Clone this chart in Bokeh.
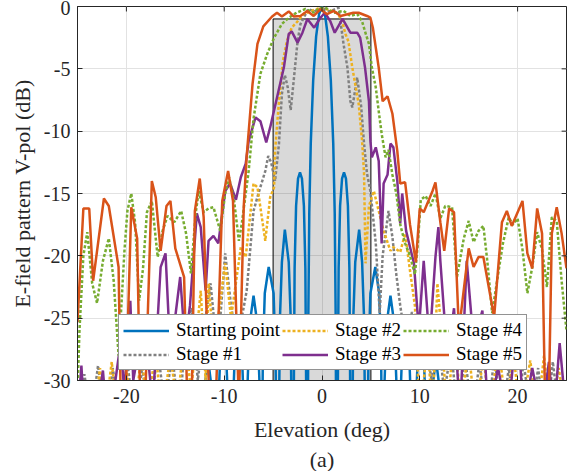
from bokeh.plotting import figure
from bokeh.models import Legend, LegendItem, Title, Range1d
from bokeh.embed import file_html
from bokeh.resources import INLINE

# ---------------- data ----------------
x_ticks = [-20, -10, 0, 10, 20]
y_ticks = [-30, -25, -20, -15, -10, -5, 0]

mask_left = [-5]
mask_right = [5]
mask_top = [-1]
mask_bottom = [-30]

start_x = [-25.0, -14.0, -13.75, -13.55, -13.2, -12.85, -12.65, -12.45, -12.2, -12.0, -11.65, -11.3, -11.1,
           -10.9, -10.65, -10.45, -10.1, -9.75, -9.55, -9.35, -9.1, -8.9, -8.55, -8.2, -8.0,
           -7.8, -7.6, -7.4, -7.0, -6.6, -6.4, -6.2, -6.05, -5.85, -5.45, -4.95, -4.75,
           -4.55, -4.3, -4.1, -3.8, -3.4, -3.2, -3.0, -2.8, -2.65, -2.45, -2.25, -2.05, -1.85, -1.7,
           -1.5, -1.4, -1.3, -1.15, -0.9, -0.6, -0.3, 0.0,
           0.3, 0.6, 0.9, 1.15, 1.3, 1.4, 1.5,
           1.7, 1.85, 2.05, 2.25, 2.45, 2.65, 2.8, 3.0,
           3.2, 3.4, 3.8, 4.1, 4.3, 4.55,
           4.75, 4.95, 5.45, 5.85, 6.05, 6.2,
           6.4, 6.6, 7.0, 7.4, 7.6, 7.8,
           8.0, 8.2, 8.55, 8.9, 9.1, 9.35,
           9.55, 9.75, 10.1, 10.45, 10.65, 10.9,
           11.1, 11.3, 11.65, 12.0, 12.2, 12.45,
           12.65, 12.85, 13.2, 13.55, 13.75, 14.0, 25.0]
start_y = [-45, -45, -36, -32, -30.2, -32, -36, -45, -35, -30.5, -28.3, -30.5, -35,
           -45, -33, -29, -26.6, -29, -33, -45, -32, -27.5, -25.0, -27.5, -32,
           -45, -30, -25.5, -23.2, -25.5, -30, -45, -28, -23, -20.9, -23, -28,
           -45, -25, -20.5, -17.9, -20.5, -25, -45, -21, -16, -13.8, -13.3, -13.8, -16, -21,
           -45, -25, -16.5, -11, -5.9, -2.4, -0.6, 0.0,
           -0.6, -2.4, -5.9, -11, -16.5, -25, -45,
           -21, -16, -13.8, -13.3, -13.8, -16, -21, -45,
           -25, -20.5, -17.9, -20.5, -25, -45,
           -28, -23, -20.9, -23, -28, -45,
           -30, -25.5, -23.2, -25.5, -30, -45,
           -32, -27.5, -25.0, -27.5, -32, -45,
           -33, -29, -26.6, -29, -33, -45,
           -35, -30.5, -28.3, -30.5, -35, -45,
           -36, -32, -30.2, -32, -36, -45, -45]

s1_x = [-25.0, -24.3, -23.6, -22.9, -22.1, -21.4, -20.6, -19.9, -19.1, -18.4, -17.6, -16.8, -16.1,
        -15.3, -14.6, -13.9, -13.3, -12.7, -12.1, -11.4, -10.8, -10.4, -9.9, -9.3, -8.7, -8.0,
        -7.7, -7.0, -6.5, -5.8, -5.5, -5.2, -4.8, -4.4, -4.1, -3.8, -3.5, -3.2, -2.9, -2.5,
        -2.2, -1.4, -0.8, 0.0, 0.8, 1.7, 2.2, 2.6, 2.9, 3.1, 3.6, 4.0, 4.3, 4.6, 4.95, 5.5,
        5.9, 6.2, 6.8, 7.2, 7.6, 8.0, 8.6, 9.2, 9.8, 10.5, 11.2, 11.9, 12.5, 13.2, 13.9, 14.6,
        15.4, 16.1, 16.9, 17.6, 18.4, 19.1, 19.9, 20.6, 21.4, 22.1, 22.9, 23.6, 24.3, 25.0]
s1_y = [-34, -29.5, -33, -28.8, -34, -29, -33, -28.5, -34, -29, -33, -27.5, -32,
        -28, -33, -25.5, -24.2, -30, -26, -22.2, -27, -25, -19.8, -24, -27, -24.1,
        -22.8, -16.4, -15.0, -13.2, -12.0, -12.5, -14.0, -11.0, -7.0, -5.5, -6.5, -8.3, -6.0, -2.8,
        -1.4, -0.2, -0.4, -0.1, -0.4, -0.1, -3.0, -4.9, -7.6, -8.1, -5.7, -8.0, -11.0, -13.4, -14.8, -19.0,
        -24.6, -20.0, -16.4, -18.5, -21.5, -24.0, -27.0, -24.5, -28.5, -26.0, -30, -26.5, -31, -27.5, -33, -28,
        -33, -28.5, -34, -28, -33, -29, -34, -28.5, -33, -29, -34, -28.5, -33, -34]

s2_x = [-25.0, -24.2, -23.5, -22.7, -22.2, -21.5, -20.9, -20.0, -19.3, -18.5, -17.8, -17.0, -16.4,
        -15.5, -14.8, -14.0, -13.4, -12.4, -11.9, -11.6, -11.2, -10.6, -9.9, -9.3, -8.3, -7.8,
        -7.0, -6.6, -5.8, -5.3, -4.9, -4.8, -4.4, -4.0, -3.6, -3.1, -2.5, -1.9, -1.2, -0.2,
        0.8, 1.5, 2.0, 2.4, 2.7, 3.1, 3.75, 4.1, 4.3, 4.45, 4.8, 5.3, 5.8, 6.3, 7.0, 7.3,
        8.0, 8.5, 9.0, 9.5, 10.0, 10.8, 11.3, 11.8, 12.3, 12.8, 13.5, 14.2, 15.0, 15.7, 16.5,
        17.2, 18.0, 18.8, 19.6, 20.3, 21.3, 22.0, 22.7, 23.4, 24.2, 25.0]
s2_y = [-33, -30, -34, -29, -33, -28.5, -33, -29, -34, -28, -32, -27.5, -33,
        -28, -32, -26, -31, -22.8, -30, -22.2, -26, -24.9, -20.6, -25, -19.3, -20.1,
        -14.2, -14.5, -18.8, -15.3, -14.5, -11.6, -7.6, -4.4, -2.8, -1.7, -1.2, -0.6, -0.4, -0.1,
        -0.3, -0.5, -1.0, -2.2, -2.8, -4.9, -7.8, -10.8, -13.4, -20.6, -16.0, -14.8, -16.4, -18.0, -19.6, -19.3,
        -19.7, -18.2, -21.2, -24.0, -33, -27, -33, -22.2, -27, -33, -26, -32, -27.5, -33, -28,
        -33, -27, -32, -28, -33, -28.4, -33, -28, -33, -29, -33]

s3_x = [-25.0, -24.6, -24.3, -23.5, -22.4, -22.0, -21.3, -20.6, -20.2, -19.6, -19.3, -18.2, -17.3,
        -16.5, -16.0, -15.5, -14.5, -14.0, -13.5, -12.8, -12.4, -11.9, -11.6, -11.1, -10.6, -9.9,
        -9.4, -8.8, -8.3, -7.8, -7.5, -6.8, -6.3, -5.7, -5.3, -4.6, -3.9, -3.4, -3.1, -2.5,
        -2.0, -1.5, -0.8, -0.16, 0.3, 0.86, 1.3, 2.1, 2.9, 3.6, 3.9, 4.4, 4.8, 4.95, 5.1,
        5.5, 5.8, 6.1, 6.3, 6.7, 7.0, 7.3, 7.7, 8.0, 8.2, 8.6, 9.4, 9.9, 10.4, 11.0, 11.6,
        11.9, 12.1, 12.8, 13.5, 14.1, 14.8, 15.5, 16.4, 17.0, 18.0, 19.0, 20.0, 20.6, 21.5,
        22.5, 23.2, 23.7, 24.3, 25.0]
s3_y = [-33, -28.8, -33, -35, -29.2, -33, -31, -27, -31, -23.6, -30, -25, -32,
        -20.9, -19.8, -28, -21.7, -27, -24, -16.6, -17.7, -22.8, -18.8, -18.4, -19.0, -14.8,
        -14.2, -15.5, -13.7, -12.6, -10.8, -8.9, -9.2, -10.9, -9.7, -7.3, -4.9, -2.2, -2.0, -2.9,
        -2.1, -1.0, -1.7, -0.9, -0.5, -1.2, -2.1, -1.0, -2.1, -2.1, -2.5, -4.9, -7.6, -10.8, -12.1,
        -11.3, -12.4, -19.0, -14.2, -13.5, -11.0, -11.3, -14.0, -17.4, -15.0, -18.0, -20.6, -26, -20.4, -27, -20.1,
        -17.7, -20.4, -28, -24.2, -33, -20.4, -27, -24.4, -33, -29, -33, -24.9, -33, -29,
        -33, -28.5, -33, -27, -33]

s4_x = [-25.0, -24.8, -24.4, -24.0, -23.5, -23.0, -22.4, -21.8, -21.3, -20.8, -20.2, -19.9, -19.5,
        -19.1, -18.7, -18.3, -17.9, -17.4, -16.8, -16.3, -15.8, -15.1, -14.4, -13.9, -13.4, -12.9,
        -12.6, -12.1, -11.6, -11.1, -10.4, -9.9, -9.5, -9.0, -8.5, -8.2, -7.5, -7.0, -6.3, -5.6,
        -4.9, -4.1, -3.4, -2.6, -1.7, -0.85, -0.16, 0.35, 1.2, 2.2, 2.9, 3.6, 4.1, 4.4, 4.8,
        5.1, 5.5, 5.8, 6.1, 6.5, 6.8, 7.2, 7.6, 8.0, 8.5, 9.0, 9.5, 9.8, 10.1, 10.6, 11.1,
        11.6, 12.1, 12.6, 13.3, 13.8, 14.5, 15.0, 15.5, 16.0, 16.5, 16.9, 17.4, 17.9, 18.5,
        19.1, 19.5, 20.0, 20.5, 21.0, 21.5, 22.0, 22.5, 23.0, 23.5, 24.0, 24.5, 25.0]
s4_y = [-31, -26, -20, -18.1, -22.2, -23.8, -20.4, -18.6, -22, -28, -19.6, -16.4, -15.0,
        -17.4, -23.6, -21, -16.5, -15.6, -20.1, -18, -16.8, -17.3, -16.4, -18.2, -21.4, -16.5,
        -14.8, -16.5, -16.2, -16.1, -18.0, -15.0, -13.7, -15.5, -18.8, -17.4, -13.2, -9.0, -5.4, -3.8,
        -2.5, -1.4, -0.9, -0.5, -0.2, -0.5, -0.1, -0.1, -0.5, -0.36, -0.76, -0.6, -1.2, -2.0, -3.0,
        -4.9, -6.5, -8.4, -10.2, -12.1, -11.5, -13.5, -15.0, -17.5, -19.0, -20.0, -21.5, -19.0, -15.5, -15.2, -16.0,
        -15.0, -17.0, -16.0, -16.1, -21.7, -18.6, -17.2, -18.9, -18.0, -17.6, -20.4, -24.6, -22.0, -19.0,
        -16.9, -17.5, -17.0, -19.5, -23.0, -20.9, -18.1, -19.5, -22.5, -16.9, -17.2, -22.0, -26.0]

s5_x = [-25.0, -24.4, -23.8, -23.4, -22.3, -21.8, -20.8, -20.4, -19.5, -18.9, -18.4, -17.4, -17.0,
        -16.5, -15.9, -15.5, -15.0, -14.1, -13.5, -13.0, -12.5, -12.1, -11.2, -10.2, -9.6, -9.1,
        -8.5, -8.0, -7.7, -7.1, -6.6, -6.0, -5.1, -4.6, -4.1, -3.4, -2.9, -2.2, -1.5, -0.85,
        -0.16, 0.52, 1.2, 1.9, 2.6, 3.2, 3.75, 4.6, 4.95, 5.2, 5.8, 6.2, 6.7, 7.2, 7.7,
        8.0, 8.5, 9.0, 9.6, 10.0, 10.4, 11.3, 11.6, 12.1, 12.5, 13.0, 13.5, 14.0, 15.0, 15.5,
        16.0, 16.5, 17.6, 18.4, 18.9, 19.4, 20.5, 21.0, 21.5, 22.0, 22.5, 23.0, 23.5, 24.0,
        24.5, 25.0]
s5_y = [-25.3, -16.2, -16.2, -22.0, -15.4, -16.0, -20.9, -40, -16.1, -18.6, -40, -14.0, -15.3,
        -19.6, -16.0, -15.6, -19.4, -21.7, -40, -16.4, -13.8, -16.9, -40, -15.6, -13.2, -15.6,
        -32, -16.0, -12.0, -6.2, -3.0, -1.6, -0.8, -0.5, -0.8, -0.4, -0.8, -0.76, -0.36, -0.76,
        -0.22, -0.62, -0.36, -0.76, -0.62, -0.5, -0.5, -0.76, -0.9, -1.7, -4.9, -7.6, -7.2, -8.6, -11.6,
        -14.2, -14.1, -17.5, -20.5, -16.2, -16.5, -14.8, -14.1, -17.3, -19.6, -16.2, -16.5, -26.0, -19.4, -20.9,
        -20.1, -20.1, -24.9, -17.3, -16.4, -17.6, -15.6, -19.8, -21.0, -16.2, -18.2, -40, -18.2, -16.1,
        -18.2, -21.0]

names = ["Starting point", "Stage #1", "Stage #2", "Stage #3", "Stage #4", "Stage #5"]
colors = ["#0072BD", "#808080", "#EDB120", "#7E2F8E", "#77AC30", "#D95319"]
dashes = ["solid", "3 2", "3 2", "solid", "3 2", "solid"]
series_x = [start_x, s1_x, s2_x, s3_x, s4_x, s5_x]
series_y = [start_y, s1_y, s2_y, s3_y, s4_y, s5_y]
for xs, ys in zip(series_x, series_y):
    assert len(xs) == len(ys), (len(xs), len(ys))

FONT = "serif"
TXT = "#262626"

p = figure(width=574, height=471, x_range=Range1d(-25, 25), y_range=Range1d(-30, 0),
           output_backend="svg", toolbar_location=None,
           min_border_left=77, min_border_right=8, min_border_top=6, min_border_bottom=90)
p.outline_line_color = TXT
p.outline_line_width = 1

p.grid.grid_line_color = "#E2E2E2"
p.grid.grid_line_width = 1

p.quad(left=mask_left, right=mask_right, top=mask_top, bottom=mask_bottom,
       fill_color="black", fill_alpha=0.15, line_color="black", line_width=1)

renderers = []
for xs, ys, c, d in zip(series_x, series_y, colors, dashes):
    r = p.line(xs, ys, line_color=c, line_width=2.5, line_dash=d)
    renderers.append(r)

# inward ticks on the top and right edges (box on)
p.segment(x0=x_ticks, y0=[y_ticks[-1]] * len(x_ticks), x1=x_ticks, y1=[y_ticks[-1] - 0.4] * len(x_ticks),
          line_color=TXT, line_width=1)
p.segment(x0=[25] * len(y_ticks), y0=y_ticks, x1=[24.5] * len(y_ticks), y1=y_ticks,
          line_color=TXT, line_width=1)

for ax in (p.xaxis[0], p.yaxis[0]):
    ax.major_tick_in = 5
    ax.major_tick_out = 0
    ax.minor_tick_in = 0
    ax.minor_tick_out = 0
    ax.axis_line_color = TXT
    ax.major_tick_line_color = TXT
    ax.major_label_text_font = FONT
    ax.major_label_text_font_size = "20px"
    ax.major_label_text_color = TXT
    ax.axis_label_text_font = FONT
    ax.axis_label_text_font_size = "22px"
    ax.axis_label_text_font_style = "normal"
    ax.axis_label_text_color = TXT

p.xaxis.ticker = x_ticks
p.yaxis.ticker = y_ticks
p.xaxis.major_label_overrides = {t: str(t) for t in x_ticks}
p.yaxis.major_label_overrides = {t: str(t) for t in y_ticks}
p.xaxis.axis_label = "Elevation (deg)"
p.yaxis.axis_label = "E-field pattern V-pol (dB)"
p.xaxis.major_label_standoff = 8
p.yaxis.major_label_standoff = 7
p.xaxis.axis_label_standoff = 11
p.yaxis.axis_label_standoff = 6

items = [LegendItem(label=n, renderers=[r]) for n, r in zip(names, renderers)]
legend = Legend(items=items, location=(41, 10), orientation="vertical", nrows=2,
                label_text_font=FONT, label_text_font_size="19px", label_text_color="black",
                glyph_width=46, glyph_height=17, label_height=17, label_standoff=7,
                spacing=2, padding=4, margin=0,
                border_line_color=TXT, border_line_width=1, background_fill_alpha=1)
p.add_layout(legend, "center")

p.add_layout(Title(text="(a)", align="center", text_font=FONT, text_font_size="22px",
                   text_font_style="normal", text_color=TXT, standoff=0, offset=0), "below")

open("out.html", "w").write(file_html(p, INLINE))
